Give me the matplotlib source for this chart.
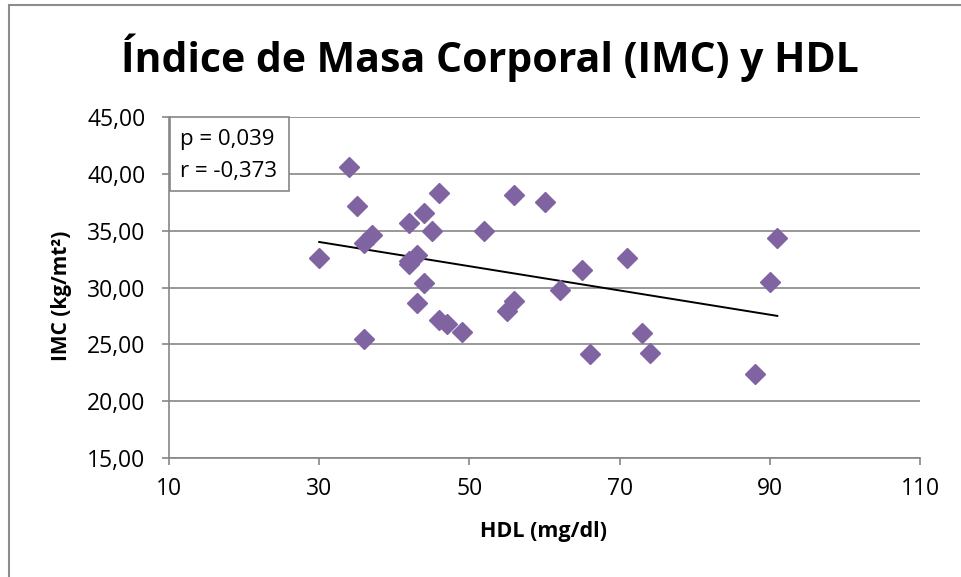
import numpy as np
import matplotlib
matplotlib.use("Agg")
import matplotlib.pyplot as plt
from matplotlib.patches import Rectangle
from matplotlib.ticker import FuncFormatter

title = "Índice de Masa Corporal (IMC) y HDL"
xlabel = "HDL (mg/dl)"
ylabel = "IMC (kg/mt²)"
stats_lines = ["p = 0,039", "r = -0,373"]

hdl = [34, 35, 30, 36, 37, 36, 46, 44, 42, 45, 43, 42, 42, 44, 43, 46, 47, 49,
       52, 56, 60, 55, 56, 62, 65, 71, 66, 73, 74, 88, 90, 91]
imc = [40.6, 37.2, 32.6, 33.95, 34.6, 25.5, 38.36, 36.6, 35.66, 35.0, 32.9, 32.1,
       32.3, 30.43, 28.6, 27.14, 26.8, 26.1, 34.96, 38.13, 37.54, 27.9, 28.8, 29.8,
       31.55, 32.6, 24.1, 26.0, 24.26, 22.4, 30.5, 34.37]

xticks = [10, 30, 50, 70, 90, 110]
yticks = [15, 20, 25, 30, 35, 40, 45]

purple = "#8064A2"
grid_gray = "#868686"

plt.rcParams['font.family'] = ['Open Sans', 'DejaVu Sans']

fig = plt.figure(figsize=(9.61, 5.77), dpi=100)
W, H = 961, 577
ax_left, ax_right, ax_top, ax_bot = 169, 920, 117.3, 457.7
ax = fig.add_axes([ax_left / W, 1 - ax_bot / H, (ax_right - ax_left) / W, (ax_bot - ax_top) / H])

ax.set_xlim(10, 110)
ax.set_ylim(15, 45)
ax.set_xticks(xticks)
ax.set_yticks(yticks)
ax.yaxis.set_major_formatter(FuncFormatter(lambda v, p: f"{v:.2f}".replace(".", ",")))
ax.grid(axis='y', color=grid_gray, linewidth=1.2)
ax.set_axisbelow(True)
for s in ['top', 'right']:
    ax.spines[s].set_visible(False)
for s in ['left', 'bottom']:
    ax.spines[s].set_color(grid_gray)
    ax.spines[s].set_linewidth(1.2)
ax.tick_params(axis='both', direction='out', length=5, width=1.2, color=grid_gray,
               labelsize=16.5, labelcolor='black')
ax.tick_params(axis='x', pad=9)
ax.tick_params(axis='y', pad=12)

x = np.array(hdl)
y = np.array(imc)
ax.plot(x, y, linestyle='none', marker='D', markersize=10.5, color=purple, zorder=3)

m, b = np.polyfit(x, y, 1)
xs = np.array([x.min(), x.max()])
ax.plot(xs, m * xs + b, color='black', linewidth=1.4, zorder=2)

# stats box anchored at the top-left corner of the plot area
bx0, bx1, by0, by1 = 170, 289, 117, 191
fig.patches.append(Rectangle((bx0 / W, 1 - by1 / H), (bx1 - bx0) / W, (by1 - by0) / H,
                             transform=fig.transFigure, facecolor='white',
                             edgecolor=grid_gray, linewidth=1.2, zorder=5))
fig.text(180 / W, 1 - 139 / H, stats_lines[0], ha='left', va='center', fontsize=16, zorder=6)
fig.text(180 / W, 1 - 172 / H, stats_lines[1], ha='left', va='center', fontsize=16, zorder=6)

fig.text(490 / W, 1 - 58 / H, title, ha='center', va='center', fontsize=29.5, fontweight='bold')
fig.text(544 / W, 1 - 531 / H, xlabel, ha='center', va='center', fontsize=15.5, fontweight='bold')
fig.text(62 / W, 1 - 296 / H, ylabel, ha='center', va='center', fontsize=15, fontweight='bold',
         rotation=90)

fig.patches.append(Rectangle((9 / W, -0.1), 1.2, 1 - 5 / H + 0.1, transform=fig.transFigure,
                             fill=False, edgecolor='#8c8c8c', linewidth=1.5))

fig.savefig("out.png", dpi=100)
